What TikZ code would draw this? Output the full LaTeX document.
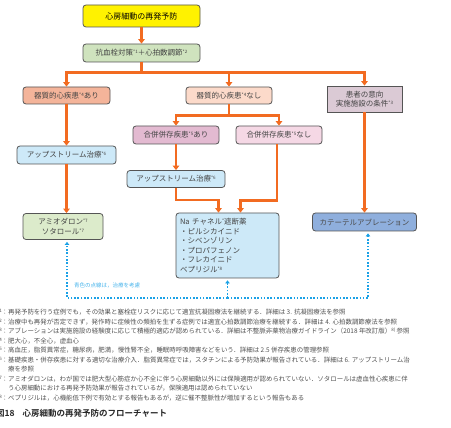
\documentclass[tikz,border=0pt]{standalone}
\usepackage{fontspec}
\setmainfont{Noto Sans CJK JP}[BoldFont={Noto Sans CJK JP Bold}]
\usepackage{xcolor}
\usepackage{tikz}
\usetikzlibrary{arrows.meta}

\definecolor{flow}{HTML}{F26B21}
\definecolor{hint}{HTML}{1BA1E6}
\definecolor{boxline}{HTML}{555555}
\definecolor{txt}{HTML}{444444}
\definecolor{notetxt}{HTML}{505050}
\definecolor{goalc}{HTML}{FFF200}
\definecolor{antic}{HTML}{CFE3BE}
\definecolor{orgac}{HTML}{F4B49A}
\definecolor{orgnc}{HTML}{FCDACA}
\definecolor{prefc}{HTML}{DBCAD5}
\definecolor{combac}{HTML}{E3BAD1}
\definecolor{combnc}{HTML}{F5D8E5}
\definecolor{upc}{HTML}{CDE9F8}
\definecolor{amioc}{HTML}{DCEBCB}
\definecolor{cathc}{HTML}{8FAFDD}

\newcommand{\supmark}[1]{\raisebox{0.55ex}{\fontsize{4.5}{5}\selectfont #1}}

\begin{document}
\begin{tikzpicture}[
    x=1pt, y=-1pt, font=\fontsize{7.5}{9.5}\selectfont,
    box/.style={rectangle, draw=boxline, line width=0.8pt, rounded corners=3pt,
                align=center, text=txt, inner sep=1pt, minimum height=18pt},
    arr/.style={-{Triangle[length=4.5pt,width=6.5pt]}, line width=2.3pt, draw=flow},
    fbarr/.style={-{Triangle[length=3pt,width=4.5pt]}, line width=1.6pt, draw=hint,
                  dash pattern=on 1.6pt off 1.7pt, shorten >=2pt},
    note/.style={anchor=north west, inner sep=0pt, align=left, text=notetxt,
                 font=\fontsize{6.45}{9.5}\selectfont}
]
\useasboundingbox (0,0) rectangle (451,428);

% Top: goal and basic treatment
\node[box, fill=goalc, text=black, minimum width=117pt, minimum height=22pt,
      font=\fontsize{8}{10}\selectfont] (goal) at (141.5,16) {心房細動の再発予防};
\node[box, fill=antic, minimum width=117pt] (anti) at (141.5,53)
      {抗血栓対策\supmark{*1}＋心拍数調節\supmark{*2}};

% Second row: three branches
\node[box, fill=orgac, minimum width=87pt, minimum height=17pt] (orgA) at (66.5,95.5) {器質的心疾患\supmark{*4}あり};
\node[box, fill=orgnc, minimum width=86pt, minimum height=17pt] (orgN) at (229,95.5) {器質的心疾患\supmark{*4}なし};
\node[box, fill=prefc, rounded corners=0pt, minimum width=75pt, minimum height=26pt] (pref) at (364.5,99)
      {患者の意向\\実施施設の条件\supmark{*3}};

% Comorbidity split
\node[box, fill=combac, minimum width=86pt] (combA) at (176,135) {合併併存疾患\supmark{*5}あり};
\node[box, fill=combnc, minimum width=86pt] (combN) at (279,135) {合併併存疾患\supmark{*5}なし};

% Upstream therapy
\node[box, fill=upc, minimum width=99pt] (up1) at (66.5,155) {アップストリーム治療\supmark{*6}};
\node[box, fill=upc, minimum width=98pt, minimum height=17pt] (up2) at (176,179) {アップストリーム治療\supmark{*6}};

% Drugs and ablation
\node[box, fill=amioc, minimum width=80pt, minimum height=26pt] (amio) at (63,226.5)
      {アミオダロン\supmark{*7}\\ソタロール\supmark{*7}};
\node[box, fill=upc, align=left, text width=95pt, minimum width=103pt, minimum height=65pt] (na) at (227.5,245.5)
      {Na チャネル\supmark{*}遮断薬\\・ピルシカイニド\\・シベンゾリン\\・プロパフェノン\\・フレカイニド\\ベプリジル\supmark{*8}};
\node[box, fill=cathc, text=black!70, minimum width=104pt] (cath) at (364.5,222) {カテーテルアブレーション};

% Forward arrows
\draw[arr] (goal) -- (anti);
\draw[arr] (anti.south) -- ++(0,10) -| (orgA.north);
\draw[arr] (anti.south) -- ++(0,10) -| (orgN.north);
\draw[arr] (anti.south) -- ++(0,10) -| (pref.north);
\draw[arr] (orgN.south) -- ++(0,11) -| (combA.north);
\draw[arr] (orgN.south) -- ++(0,11) -| (combN.north);
\draw[arr] (orgA) -- (up1);
\draw[arr] (combA) -- (up2);
\draw[arr] (up1) -- (up1 |- amio.north);
\draw[arr] (up2.south) -- ++(0,12) -| ([xshift=-9pt]na.north);
\draw[arr] ([xshift=-2pt]combN.south) -- ++(0,56) -| ([xshift=13pt]na.north);
\draw[arr] (pref.south) -- (pref.south |- cath.north);

% Dotted lines: treatment to consider
\coordinate (fbk) at (227.5,298);
\draw[fbarr] (fbk) -- (na.south);
\draw[fbarr] (fbk) -| ([xshift=4pt]amio.south);
\draw[fbarr] (fbk) -| ([xshift=3.5pt]cath.south);
\node[anchor=west, inner sep=0pt, text=hint!80, font=\fontsize{5.5}{7}\selectfont] (hintlbl) at (74,285)
      {青色の点線は，治療を考慮};

% Footnotes and caption
\node[note] (notes) at (8,309) {%
\llap{\supmark{*1}：}再発予防を行う症例でも，その効果と塞栓症リスクに応じて適宜抗凝固療法を継続する．詳細は 3. 抗凝固療法を参照\\
\llap{\supmark{*2}：}治療中も再発が否定できず，発作時に症候性の頻拍を生ずる症例では適宜心拍数調節治療を継続する．詳細は 4. 心拍数調節療法を参照\\
\llap{\supmark{*3}：}アブレーションは実施施設の経験度に応じて積極的適応が認められている．詳細は不整脈非薬物治療ガイドライン（2018 年改訂版）\supmark{8)} 参照\\
\llap{\supmark{*4}：}肥大心，不全心，虚血心\\
\llap{\supmark{*5}：}高血圧，脂質異常症，糖尿病，肥満，慢性腎不全，睡眠時呼吸障害などをいう．詳細は 2.5 併存疾患の管理参照\\
\llap{\supmark{*6}：}基礎疾患・併存疾患に対する適切な治療介入．脂質異常症では，スタチンによる予防効果が報告されている．詳細は 6. アップストリーム治\\
療を参照\\
\llap{\supmark{*7}：}アミオダロンは，わが国では肥大型心筋症か心不全に伴う心房細動以外には保険適用が認められていない．ソタロールは虚血性心疾患に伴\\
う心房細動における再発予防効果が報告されているが，保険適用は認められていない\\
\llap{\supmark{*8}：}ベプリジルは，心機能低下例で有効とする報告もあるが，逆に催不整脈性が増加するという報告もある};
\node[anchor=west, inner sep=0pt, text=black!85, font=\bfseries\fontsize{8.5}{10}\selectfont] (caption) at (-4,413)
      {図18\hspace{8pt}心房細動の再発予防のフローチャート};
\end{tikzpicture}
\end{document}
